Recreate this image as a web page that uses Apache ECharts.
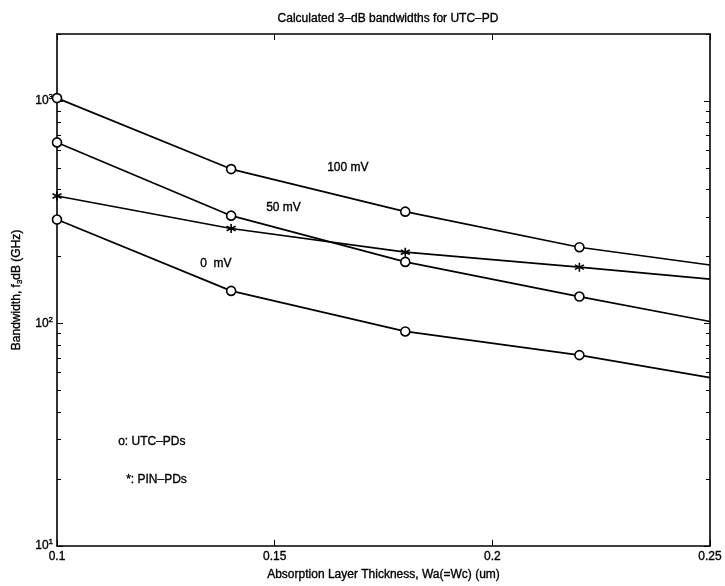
<!DOCTYPE html>
<html>
<head>
<meta charset="utf-8">
<script src="https://cdn.jsdelivr.net/npm/echarts@6/dist/echarts.min.js"></script>
<style>
  html, body { margin: 0; padding: 0; background: #fff; }
  #main { width: 725px; height: 586px; }
</style>
</head>
<body>
<div id="main"></div>
<script>
var chartDom = document.getElementById('main');
var myChart = echarts.init(chartDom);

// thickness (um) where the curves are sampled, last one has no marker
var thickness = [0.1, 0.14, 0.18, 0.22, 0.25];

// bandwidth in GHz
var utc100 = [1030, 494, 318, 220, 183];
var utc50 = [651, 305, 189, 132, 102];
var pin = [374, 267, 209, 179, 158];
var utc0 = [293, 140, 92, 72, 57];

var xTicks = [0.1, 0.15, 0.2, 0.25];
var yDecades = [10, 100, 1000];
var yMinor = [20, 30, 40, 50, 60, 70, 80, 90, 200, 300, 400, 500, 600, 700, 800, 900, 2000];

var FONT = 'Liberation Sans, Arial, sans-serif';
var starPath = 'path://M0,-10L0,10M-8.66,-5L8.66,5M-8.66,5L8.66,-5';
// scanned text looks a bit heavier than plain regular
var heavy = { textBorderColor: '#000', textBorderWidth: 0.35 };

function makeData(vals) {
    return thickness.map(function (t, i) {
        var item = { value: [t, vals[i]] };
        if (i === thickness.length - 1) item.symbol = 'none';
        return item;
    });
}

function lineSeries(name, vals, symbol, size) {
    return {
        name: name,
        type: 'line',
        xAxisIndex: 0,
        yAxisIndex: 0,
        data: makeData(vals),
        symbol: symbol,
        symbolSize: size,
        showAllSymbol: true,
        lineStyle: { color: '#000', width: 1.7 },
        itemStyle: { color: symbol === 'circle' ? '#fff' : '#000', borderColor: '#000', borderWidth: 1.6 },
        emphasis: { disabled: true },
        animation: false,
        z: 3
    };
}

function txt(s, x, y) {
    return {
        type: 'text', left: x, top: y,
        style: { text: s, font: '12px ' + FONT, fill: '#000', stroke: '#000', lineWidth: 0.35 }
    };
}

var minorLog = yMinor.map(function (v) { return Math.log10(v); });
var logMax = Math.log10(2000);

var option = {
    animation: false,
    title: {
        text: 'Calculated 3\u2013dB bandwidths for UTC\u2013PD',
        left: 383,
        textAlign: 'center',
        top: 8,
        textStyle: Object.assign({ fontFamily: FONT, fontSize: 12, fontWeight: 'normal', color: '#000' }, heavy)
    },
    grid: { left: 57, right: 15, top: 34, bottom: 39 },
    xAxis: [
        {
            type: 'value',
            min: 0.1,
            max: 0.25,
            interval: 0.05,
            name: 'Absorption Layer Thickness, Wa(=Wc) (um)',
            nameLocation: 'middle',
            nameGap: 23,
            nameTextStyle: Object.assign({ fontFamily: FONT, fontSize: 12, color: '#000' }, heavy),
            axisLine: { show: true, onZero: false, lineStyle: { color: '#000', width: 1.6 } },
            axisTick: { show: true, inside: true, length: 6, lineStyle: { color: '#000' } },
            axisLabel: Object.assign({
                fontFamily: FONT, fontSize: 12, color: '#000', margin: 5,
                formatter: function (v) { return xTicks.indexOf(+v.toFixed(2)) >= 0 ? String(+v.toFixed(2)) : ''; }
            }, heavy),
            splitLine: { show: false }
        },
        {
            type: 'value',
            position: 'top',
            min: 0.1,
            max: 0.25,
            interval: 0.05,
            axisLine: { show: true, onZero: false, lineStyle: { color: '#000', width: 1.6 } },
            axisTick: { show: true, inside: true, length: 6, lineStyle: { color: '#000' } },
            axisLabel: { show: false },
            splitLine: { show: false }
        }
    ],
    yAxis: [
        {
            type: 'log',
            logBase: 10,
            min: 10,
            max: 2000,
            name: '{n|Bandwidth, f}{sub|3}{n|dB (GHz)}',
            nameLocation: 'middle',
            nameRotate: 90,
            nameGap: 30,
            nameTextStyle: {
                fontFamily: FONT, color: '#000',
                rich: {
                    n: Object.assign({ fontFamily: FONT, fontSize: 12, color: '#000' }, heavy),
                    sub: Object.assign({ fontFamily: FONT, fontSize: 8, color: '#000', padding: [6, 0, 0, 0] }, heavy)
                }
            },
            axisLine: { show: true, onZero: false, lineStyle: { color: '#000', width: 1.6 } },
            axisTick: { show: true, inside: true, length: 6, lineStyle: { color: '#000' } },
            axisLabel: {
                showMaxLabel: false,
                margin: 4,
                formatter: function (v) {
                    var e = Math.round(Math.log10(v));
                    if (yDecades.indexOf(v) < 0 && Math.abs(Math.pow(10, e) - v) > 1e-6) return '';
                    return '{b|10}{s|' + e + '}';
                },
                rich: {
                    b: Object.assign({ fontFamily: FONT, fontSize: 12, color: '#000' }, heavy),
                    s: Object.assign({ fontFamily: FONT, fontSize: 8, color: '#000', padding: [0, 0, 8, 0] }, heavy)
                }
            },
            splitLine: { show: false }
        },
        {
            type: 'value',
            position: 'left',
            min: 1,
            max: logMax,
            axisLine: { show: false },
            axisTick: { show: true, inside: true, length: 4, customValues: minorLog, lineStyle: { color: '#000' } },
            axisLabel: { show: false },
            splitLine: { show: false }
        },
        {
            type: 'value',
            position: 'right',
            min: 1,
            max: logMax,
            axisLine: { show: true, onZero: false, lineStyle: { color: '#000', width: 1.6 } },
            axisTick: { show: true, inside: true, length: 4, customValues: minorLog, lineStyle: { color: '#000' } },
            axisLabel: { show: false },
            splitLine: { show: false }
        },
        {
            type: 'value',
            position: 'right',
            min: 1,
            max: logMax,
            axisLine: { show: false },
            axisTick: { show: true, inside: true, length: 6, customValues: [1, 2, 3], lineStyle: { color: '#000' } },
            axisLabel: { show: false },
            splitLine: { show: false }
        }
    ],
    graphic: [
        txt('100 mV', 327, 162),
        txt('50 mV', 266, 202),
        txt('0  mV', 200, 258),
        txt('o: UTC\u2013PDs', 118, 436),
        txt('*: PIN\u2013PDs', 126, 474)
    ],
    series: [
        lineSeries('100 mV', utc100, 'circle', 9),
        lineSeries('50 mV', utc50, 'circle', 9),
        lineSeries('PIN', pin, starPath, 9),
        lineSeries('0 mV', utc0, 'circle', 9)
    ]
};

option && myChart.setOption(option);
</script>
</body>
</html>
